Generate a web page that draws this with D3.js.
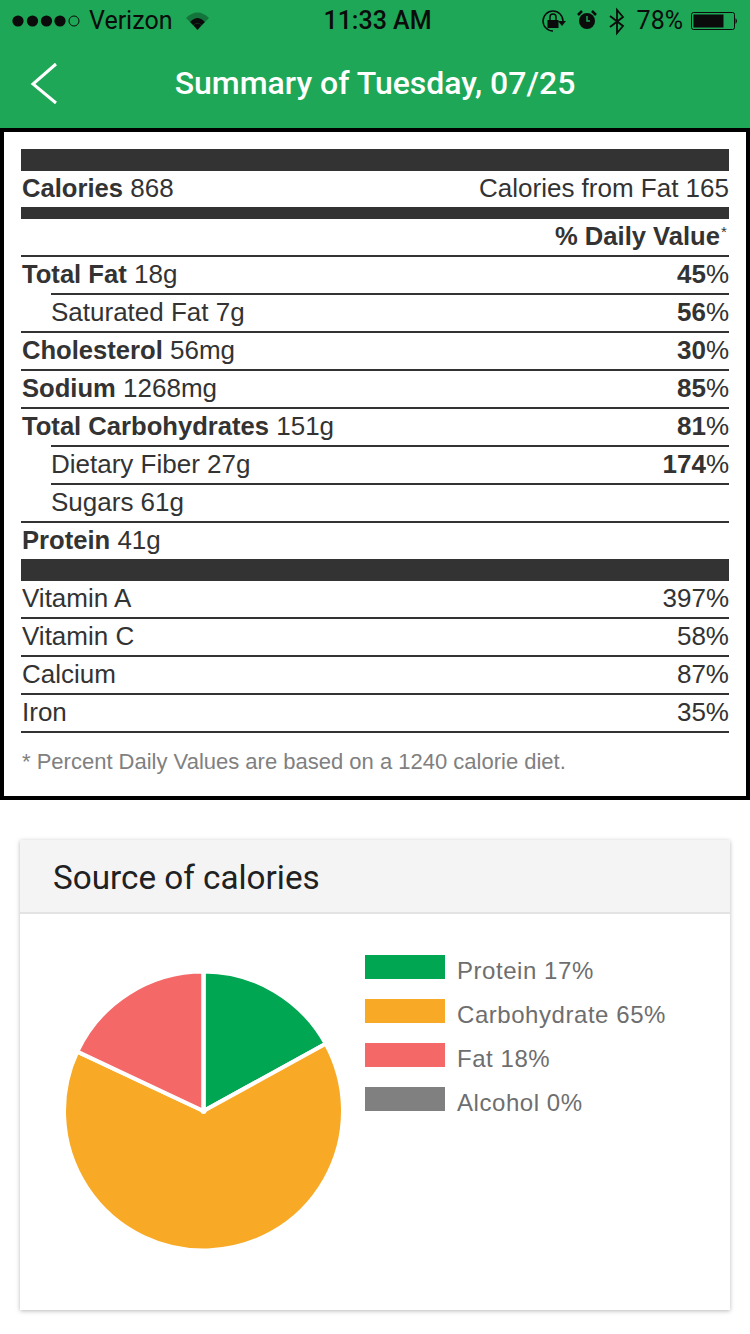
<!DOCTYPE html>
<html><head><meta charset="utf-8">
<script src="https://cdn.jsdelivr.net/npm/d3@7"></script>
<style>html,body{margin:0;padding:0;background:#fff}svg{display:block}</style>
</head><body><svg id="c" width="750" height="1334"></svg>
<script>
const rowNames=["Total Fat","Saturated Fat","Cholesterol","Sodium","Total Carbohydrates","Dietary Fiber","Sugars","Protein"];
const rowAmounts=["18g","7g","56mg","1268mg","151g","27g","61g","41g"];
const rowPercents=[45,56,30,85,81,174,null,null];
const rowIndented=[false,true,false,false,false,true,true,false];
const rowBold=[true,false,true,true,true,false,false,true];
const ruleIndented=[true,false,false,false,true,true,false];
const vitaminNames=["Vitamin A","Vitamin C","Calcium","Iron"];
const vitaminPercents=[397,58,87,35];
const sourceNames=["Protein","Carbohydrate","Fat","Alcohol"];
const sourceValues=[17,65,18,0];
const sourceColors=["#00a651","#f8a926","#f46868","#808080"];

const svg=d3.select("#c");
const SANS="'Liberation Sans',Arial,sans-serif", ROBOTO="Roboto,sans-serif";
const DARK="#333333", BOLD_FS=25.6;
const rect=(x,y,w,h,f)=>svg.append("rect").attr("x",x).attr("y",y).attr("width",w).attr("height",h).attr("fill",f);
const text=(x,y,s,o={})=>svg.append("text").attr("x",x).attr("y",y).text(s)
  .attr("font-family",o.ff||SANS).attr("font-size",o.fs||26).attr("fill",o.fill||DARK)
  .attr("font-weight",o.fw||400).attr("text-anchor",o.a||"start").attr("letter-spacing",o.ls||0);
const path=(d,o={})=>svg.append("path").attr("d",d).attr("fill",o.fill||"none").attr("stroke",o.stroke||"none").attr("stroke-width",o.sw||0);

// App header
rect(0,0,750,128,"#1da756");
const SB="#0b0b0b";
[18,32.5,46.5,60].forEach(x=>svg.append("circle").attr("cx",x).attr("cy",21).attr("r",5.6).attr("fill",SB));
svg.append("circle").attr("cx",74).attr("cy",21).attr("r",5).attr("fill","none").attr("stroke",SB).attr("stroke-width",1);
text(89,29,"Verizon",{ff:ROBOTO,fs:25,fill:SB});
// wifi
path("M186 18 Q197.500 7 209 18 L205 22 Q197.500 14 190 22Z",{fill:"#13753b"});
path("M190 22 Q197.500 14 205 22 L201.500 25.500 Q197.500 21 193.500 25.500Z",{fill:SB});
path("M193.500 25.500 Q197.500 21 201.500 25.500 L197.500 30Z",{fill:SB});
text(377.5,29,"11:33 AM",{ff:ROBOTO,fs:25,fw:500,fill:SB,a:"middle"});
// rotation lock
path("M563 21 A10 10 0 1 0 553 31",{stroke:SB,sw:1.5});
rect(547.5,20,11,8,SB);
path("M550 20 V17 A3 3 0 0 1 556 17 V20",{stroke:SB,sw:1.5});
path("M558 21 H566 L562 26Z",{fill:SB});
// alarm
svg.append("circle").attr("cx",587).attr("cy",21).attr("r",8).attr("fill",SB);
path("M587 16 V21 H590",{stroke:"#1da756",sw:1.5});
path("M578 15 L582 11 M596 15 L592 11",{stroke:SB,sw:2.5});
// bluetooth
path("M610 16 L623 26 L617 33 V10 L623 17 L610 27",{stroke:SB,sw:1.8});
text(683,29,"78%",{ff:ROBOTO,fs:25,fill:SB,a:"end"});
// battery
svg.append("rect").attr("x",691.5).attr("y",12.5).attr("width",43).attr("height",17).attr("rx",2).attr("fill","none").attr("stroke",SB).attr("stroke-width",1);
rect(693.5,14.5,30,13,SB);
path("M735.500 18 Q738.500 21 735.500 24Z",{fill:SB});
// back + title
path("M56 64 L33 84 L56 103",{stroke:"#fff",sw:3});
text(375,94,"Summary of Tuesday, 07/25",{ff:ROBOTO,fs:32,fw:500,fill:"#fff",a:"middle"});

// Nutrition label frame
svg.append("rect").attr("x",2).attr("y",130).attr("width",746).attr("height",668).attr("fill","#fff").attr("stroke","#000").attr("stroke-width",4);
const L=21,R=729,RW=R-L;
rect(L,149,RW,22,DARK);
const cal=text(22,197,"");
cal.append("tspan").attr("font-weight",700).attr("font-size",BOLD_FS).text("Calories");
cal.append("tspan").text(" 868");
text(R,197,"Calories from Fat 165",{a:"end"});
rect(L,207,RW,12,DARK);
text(720,245,"% Daily Value",{a:"end",fw:700,fs:BOLD_FS});
text(721,237,"*",{fs:15});
rect(L,255,RW,2,DARK);

const rowY=d3.scaleLinear().domain([0,1]).range([283,321]);
rowNames.forEach((n,i)=>{
  const t=text(rowIndented[i]?51:22,rowY(i),"");
  t.append("tspan").attr("font-weight",rowBold[i]?700:400).attr("font-size",rowBold[i]?BOLD_FS:26).text(n);
  t.append("tspan").text(" "+rowAmounts[i]);
  if(rowPercents[i]!=null){
    const p=text(R,rowY(i),"",{a:"end"});
    p.append("tspan").attr("font-weight",700).text(rowPercents[i]);
    p.append("tspan").text("%");
  }
  if(i<ruleIndented.length){const x=ruleIndented[i]?51:L;rect(x,rowY(i)+10,R-x,2,DARK);}
});
rect(L,559,RW,22,DARK);
const vitY=d3.scaleLinear().domain([0,1]).range([607,645]);
vitaminNames.forEach((n,i)=>{
  text(22,vitY(i),n);
  text(R,vitY(i),vitaminPercents[i]+"%",{a:"end"});
  rect(L,vitY(i)+10,RW,2,DARK);
});
text(22,769,"* Percent Daily Values are based on a 1240 calorie diet.",{fs:22,fill:"#808080"});

// Card
const defs=svg.append("defs");
const fl=defs.append("filter").attr("id","sh").attr("x","-5%").attr("y","-5%").attr("width","110%").attr("height","110%");
fl.append("feDropShadow").attr("dx",0).attr("dy",1).attr("stdDeviation",2).attr("flood-color","#000").attr("flood-opacity",0.28);
rect(20,840,710,470,"#fff").attr("filter","url(#sh)");
rect(20,840,710,72,"#f4f4f4");
rect(20,912,710,2,"#e3e3e3");
text(53,888.5,"Source of calories",{ff:ROBOTO,fs:33.25,fill:"#212121"});

// Pie
const color=d3.scaleOrdinal().domain(sourceNames).range(sourceColors);
const pie=d3.pie().value((d,i)=>sourceValues[i]).sort(null);
const arc=d3.arc().innerRadius(0).outerRadius(139.5);
const pieG=svg.append("g").attr("transform","translate(203.5,1111)");
pieG.selectAll("path").data(pie(sourceNames)).join("path")
  .attr("d",arc).attr("fill",d=>color(d.data)).attr("stroke","#fff").attr("stroke-width",4).attr("stroke-linejoin","round");
pieG.append("circle").attr("r",3).attr("fill","#fff");

// Legend
const legY=d3.scalePoint().domain(sourceNames).range([955,1087]);
const lg=svg.append("g").selectAll("g").data(sourceNames).join("g").attr("transform",d=>`translate(0,${legY(d)})`);
lg.append("rect").attr("x",365).attr("y",0).attr("width",80).attr("height",24).attr("fill",d=>color(d));
lg.append("text").attr("x",457).attr("y",24).attr("font-family",SANS).attr("font-size",24).attr("letter-spacing",0.55).attr("fill","#6e6e6e")
  .text((d,i)=>`${d} ${sourceValues[i]}%`);
</script></body></html>
